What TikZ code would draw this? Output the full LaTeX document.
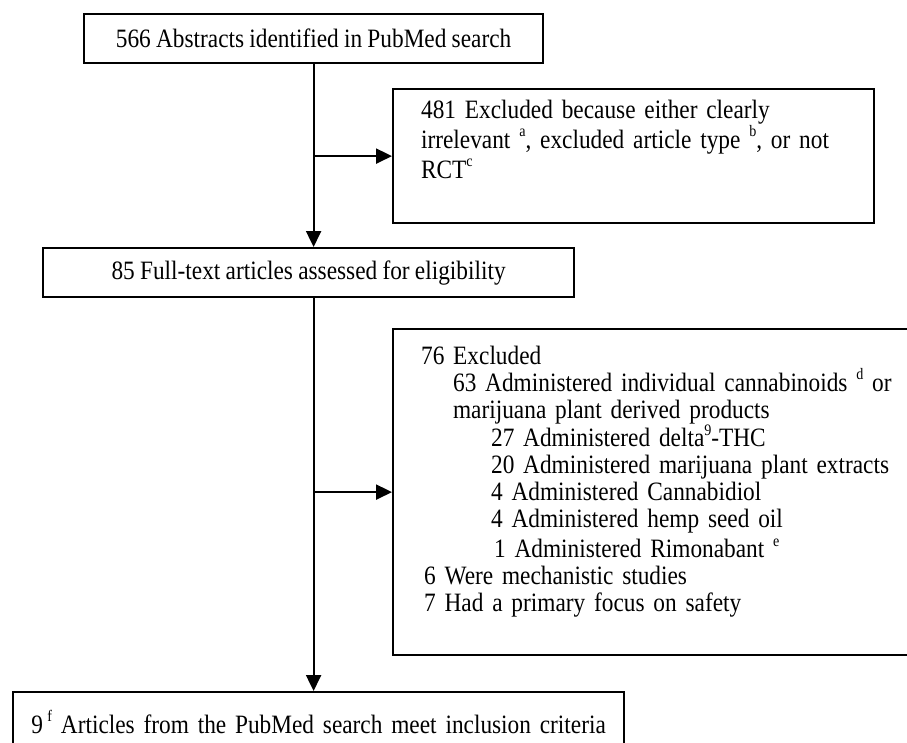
\documentclass[tikz,border=0pt]{standalone}
\usepackage{fontspec}
\setmainfont[FakeStretch=0.88, WordSpace=0.9]{Liberation Serif}
\usetikzlibrary{arrows.meta,positioning}

\newcommand{\supnote}[1]{\raisebox{0.42em}{\fontsize{16}{16}\selectfont #1}}

\begin{document}
\begin{tikzpicture}[x=1pt, y=-1pt, >={Triangle[length=16pt,width=15pt]}, line width=2.2pt,
	font=\fontsize{26.5}{27}\selectfont,
	flowbox/.style={draw, rectangle, inner sep=0pt, anchor=north west},
	notebox/.style={flowbox, align=left, inner xsep=28pt, inner ysep=0pt}]
	\useasboundingbox (0,0) rectangle (907,742);
	\clip (0,0) rectangle (907,742);

	% Nodes {abstracts, irrelevant, fulltext, excluded, included}
	\node [flowbox, minimum width=459pt, minimum height=49pt] 	(abstracts) at (83,13) 	{566 Abstracts identified in PubMed search};
	\node [notebox, font=\fontsize{26.5}{30}\selectfont, text width=425pt, text height=29pt, text depth=105pt] 	(irrelevant) at (392,88)
	{481 Excluded because either clearly\\
	irrelevant \supnote{a}, excluded article type \supnote{b}, or not\\
	RCT\supnote{c}};
	\node [flowbox, minimum width=531pt, minimum height=49pt] 	(fulltext) at (42,247) 	{85 Full-text articles assessed for eligibility};
	\node [notebox, text width=520pt, text height=35pt, text depth=291pt] 	(excluded) at (392,328)
	{76 Excluded\\
	\hspace*{32pt}63 Administered individual cannabinoids \supnote{d} or\\
	\hspace*{32pt}marijuana plant derived products\\
	\hspace*{70pt}27 Administered delta\supnote{9}-THC\\
	\hspace*{70pt}20 Administered marijuana plant extracts\\
	\hspace*{70pt}4 Administered Cannabidiol\\
	\hspace*{70pt}4 Administered hemp seed oil\\[3pt]
	\hspace*{73pt}1 Administered Rimonabant \supnote{e}\\
	\hspace*{3pt}6 Were mechanistic studies\\
	\hspace*{3pt}7 Had a primary focus on safety};
	\node [flowbox, align=center, text width=611pt, text height=41pt, text depth=40pt] 	(included) at (12,691)
	{9\,\supnote{f} Articles from the PubMed search meet inclusion criteria};

	% Paths
	\draw [->] 	(abstracts.south) -- (abstracts.south |- fulltext.north);
	\draw [->] 	(abstracts.south |- irrelevant.west) -- (irrelevant.west);
	\draw [->] 	(abstracts.south |- fulltext.south) -- (abstracts.south |- included.north);
	\draw [->] 	(abstracts.south |- excluded.west) -- (excluded.west);
\end{tikzpicture}
\end{document}
